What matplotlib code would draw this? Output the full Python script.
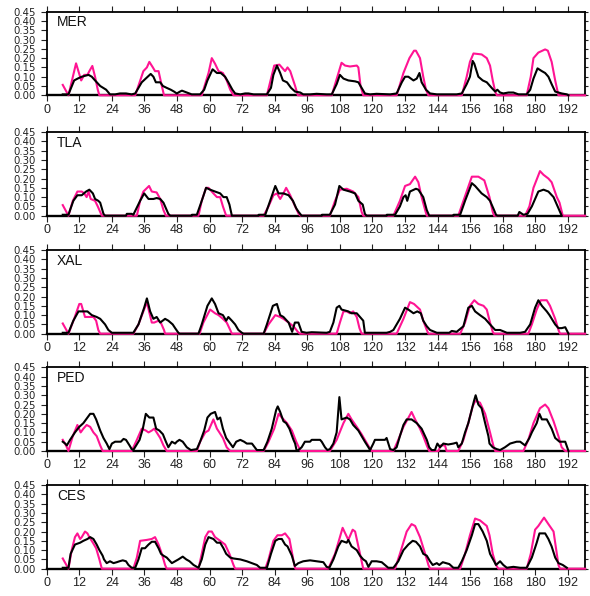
import matplotlib
matplotlib.use('Agg')
import matplotlib.pyplot as plt

# ---------------- data ----------------
stations = ['MER', 'TLA', 'XAL', 'PED', 'CES']

xticks = list(range(0, 193, 12))
yticks = [0.00, 0.05, 0.10, 0.15, 0.20, 0.25, 0.30, 0.35, 0.40, 0.45]
ytick_labels = ['0.00', '0.05', '0.10', '0.15', '0.20', '0.25', '0.30', '0.35', '0.40', '0.45']
x_range = (0, 198.3)

# black series (x, value)
mer_black = [(5.9,0.005),(8.0,0.005),(10.1,0.08),(11.4,0.09),(12.9,0.10),(15.4,0.11),(16.6,0.10),(17.8,0.08),
    (19.7,0.05),(21.9,0.03),(23.3,0.005),(25.2,0.005),(27.0,0.01),(29.2,0.01),(31.3,0.005),(32.6,0.01),
    (35.0,0.07),(37.2,0.10),(38.3,0.115),(39.3,0.10),(40.2,0.07),(41.8,0.07),(42.8,0.05),(44.2,0.04),
    (45.7,0.03),(46.9,0.02),(47.9,0.01),(49.1,0.02),(49.8,0.025),(51.6,0.015),(53.4,0.005),(56.5,0.005),
    (58.0,0.03),(59.2,0.08),(61.1,0.14),(62.7,0.12),(64.1,0.12),(65.7,0.10),(66.9,0.07),(68.4,0.03),
    (69.4,0.01),(71.3,0.005),(73.1,0.01),(74.3,0.01),(76.2,0.005),(81.1,0.005),(82.6,0.04),(83.5,0.11),
    (84.8,0.16),(86.0,0.12),(87.0,0.08),(88.5,0.07),(90.0,0.04),(91.5,0.02),(93.4,0.015),(94.5,0.005),
    (97.0,0.005),(99.4,0.008),(103.1,0.005),(105.0,0.005),(106.8,0.06),(108.0,0.11),(109.3,0.09),
    (111.1,0.08),(113.6,0.075),(114.8,0.07),(116.0,0.04),(117.2,0.01),(119.1,0.005),(121.5,0.008),
    (126.5,0.005),(128.9,0.01),(130.8,0.07),(132.0,0.10),(133.2,0.10),(135.1,0.08),(136.3,0.09),
    (137.3,0.12),(138.1,0.07),(139.7,0.03),(141.2,0.01),(143.7,0.005),(151.0,0.005),(152.9,0.01),
    (154.7,0.06),(155.9,0.10),(156.9,0.185),(157.5,0.17),(159.0,0.10),(160.6,0.08),(162.1,0.07),
    (163.9,0.04),(165.2,0.02),(166.0,0.03),(167.0,0.015),(168.2,0.01),(170.1,0.015),(171.9,0.015),
    (173.8,0.005),(176.8,0.005),(178.1,0.03),(179.3,0.09),(180.8,0.145),(182.4,0.13),(183.6,0.12),
    (184.8,0.10),(186.0,0.06),(187.3,0.02),(189.7,0.01),(191.6,0.005),(192.2,0.0)]

tla_black = [(5.9,0.005),(8.0,0.005),(9.8,0.08),(11.3,0.11),(12.9,0.11),(14.5,0.13),(15.7,0.14),(17.0,0.12),
    (17.8,0.09),(19.0,0.08),(19.7,0.07),(20.9,0.01),(21.5,0.0),(29.2,0.0),(29.5,0.01),(31.3,0.01),
    (31.9,0.005),(34.4,0.08),(35.9,0.12),(37.5,0.09),(39.3,0.09),(40.5,0.095),(41.8,0.09),(43.0,0.07),
    (43.9,0.04),(44.8,0.01),(45.5,0.0),(53.4,0.0),(53.5,0.005),(55.3,0.005),(57.1,0.08),(58.7,0.15),
    (60.2,0.14),(62.0,0.13),(63.9,0.12),(65.1,0.10),(66.3,0.10),(67.3,0.06),(68.2,0.0),(78.0,0.0),
    (78.1,0.005),(80.5,0.005),(82.3,0.08),(84.2,0.16),(85.4,0.12),(87.2,0.12),(89.1,0.11),(90.7,0.08),
    (91.9,0.04),(92.8,0.02),(93.9,0.0),(101.3,0.0),(101.4,0.005),(104.3,0.005),(106.2,0.06),
    (107.8,0.16),(109.3,0.14),(111.7,0.13),(113.6,0.12),(114.8,0.08),(116.4,0.06),(117.2,0.01),
    (117.8,0.0),(125.2,0.0),(125.3,0.005),(128.3,0.005),(130.1,0.05),(131.4,0.10),(132.2,0.11),
    (132.8,0.08),(133.8,0.13),(136.0,0.145),(136.9,0.14),(138.7,0.10),(140.0,0.03),(140.9,0.0),
    (149.8,0.0),(149.9,0.005),(152.3,0.005),(154.1,0.08),(156.6,0.175),(157.8,0.16),(160.2,0.12),
    (162.1,0.10),(163.3,0.08),(164.5,0.04),(165.5,0.005),(166.0,0.0),(173.5,0.0),(174.1,0.02),
    (175.6,0.005),(177.1,0.01),(178.7,0.05),(181.1,0.13),(183.0,0.14),(184.8,0.13),(186.7,0.10),
    (187.9,0.06),(189.1,0.02),(189.7,0.0)]

xal_black = [(5.9,0.005),(8.0,0.005),(9.8,0.07),(11.7,0.12),(13.5,0.12),(15.0,0.12),(16.6,0.10),(18.4,0.09),
    (19.7,0.08),(21.5,0.05),(22.7,0.02),(24.0,0.005),(31.9,0.005),(33.8,0.05),(35.9,0.14),(36.9,0.19),
    (38.1,0.12),(39.3,0.08),(40.5,0.09),(41.8,0.06),(43.6,0.08),(44.8,0.07),(46.4,0.05),(47.3,0.03),
    (48.5,0.005),(49.0,0.0),(55.9,0.0),(57.1,0.05),(59.2,0.15),(60.8,0.19),(62.0,0.16),(63.3,0.11),
    (64.9,0.10),(66.1,0.07),(66.9,0.09),(68.2,0.07),(69.4,0.05),(70.6,0.02),(71.9,0.005),(72.5,0.0),
    (79.9,0.0),(81.1,0.05),(83.3,0.15),(84.8,0.16),(86.0,0.10),(87.2,0.09),(89.1,0.06),(90.4,0.01),
    (91.4,0.06),(92.7,0.06),(93.9,0.01),(95.7,0.005),(97.6,0.008),(103.1,0.005),(104.3,0.01),
    (105.6,0.06),(106.8,0.14),(107.8,0.15),(108.6,0.13),(111.1,0.12),(112.3,0.11),(114.2,0.11),
    (116.0,0.08),(116.6,0.07),(117.2,0.005),(125.2,0.005),(126.5,0.01),(127.7,0.02),(130.1,0.08),
    (132.0,0.14),(133.2,0.13),(135.1,0.11),(136.5,0.12),(137.8,0.11),(138.7,0.07),(140.0,0.04),
    (141.2,0.02),(143.7,0.005),(148.3,0.005),(149.2,0.015),(151.0,0.01),(153.5,0.04),(155.3,0.14),
    (156.6,0.15),(157.8,0.12),(159.6,0.10),(161.5,0.08),(163.3,0.05),(165.2,0.02),(167.0,0.02),
    (169.5,0.005),(174.4,0.005),(176.2,0.01),(178.1,0.05),(179.9,0.14),(181.1,0.18),(182.4,0.15),
    (184.2,0.12),(185.2,0.10),(187.3,0.05),(188.5,0.03),(189.7,0.03),(191.0,0.035),(192.2,0.0)]

ped_black = [(5.9,0.05),(6.8,0.04),(7.4,0.03),(8.6,0.06),(10.4,0.10),(12.0,0.13),(13.5,0.15),(15.0,0.18),
    (16.0,0.20),(17.2,0.20),(18.2,0.17),(19.7,0.11),(20.9,0.07),(22.1,0.04),(23.1,0.01),(24.0,0.04),
    (25.2,0.05),(26.4,0.05),(27.3,0.05),(28.3,0.065),(29.2,0.06),(30.5,0.03),(31.3,0.01),(31.9,0.005),
    (34.2,0.06),(35.4,0.12),(36.5,0.20),(37.8,0.18),(39.3,0.18),(40.3,0.12),(41.5,0.11),(42.8,0.09),
    (43.9,0.05),(44.8,0.02),(46.1,0.05),(47.3,0.04),(47.9,0.05),(48.9,0.06),(50.1,0.05),(51.6,0.02),
    (53.1,0.005),(55.3,0.01),(56.5,0.05),(58.0,0.11),(59.2,0.18),(60.4,0.20),(62.0,0.21),(62.9,0.17),
    (63.9,0.18),(64.9,0.12),(66.1,0.07),(67.6,0.04),(68.6,0.02),(69.8,0.05),(71.3,0.06),(72.7,0.05),
    (73.7,0.04),(75.6,0.04),(77.4,0.005),(79.9,0.005),(81.3,0.05),(82.9,0.12),(84.5,0.22),(85.1,0.24),
    (86.0,0.21),(87.2,0.16),(88.2,0.15),(89.4,0.12),(90.9,0.06),(91.5,0.04),(92.1,0.0),(92.7,0.005),
    (93.9,0.02),(95.1,0.05),(97.0,0.05),(97.6,0.06),(99.4,0.06),(100.7,0.06),(101.3,0.05),(102.5,0.02),
    (103.4,0.005),(104.3,0.01),(105.6,0.04),(106.8,0.10),(107.8,0.29),(108.6,0.17),(110.5,0.18),
    (111.7,0.17),(112.9,0.14),(114.8,0.11),(116.0,0.08),(117.2,0.05),(118.5,0.02),(119.1,0.005),
    (120.3,0.04),(120.9,0.06),(122.8,0.06),(124.6,0.06),(125.2,0.07),(126.5,0.01),(127.7,0.005),
    (128.9,0.02),(130.1,0.08),(131.4,0.14),(132.6,0.17),(134.4,0.17),(136.3,0.15),(138.1,0.12),
    (140.0,0.06),(140.9,0.02),(141.8,0.005),(143.0,0.005),(143.9,0.04),(144.9,0.02),(146.1,0.04),
    (147.9,0.035),(149.8,0.04),(151.0,0.045),(151.6,0.02),(152.9,0.04),(154.1,0.10),(155.3,0.15),
    (157.4,0.27),(158.0,0.30),(159.0,0.25),(160.2,0.23),(161.5,0.15),(162.7,0.08),(163.1,0.04),
    (164.3,0.02),(165.8,0.01),(167.0,0.005),(168.8,0.02),(170.7,0.04),(173.1,0.05),(174.4,0.05),
    (176.2,0.03),(177.8,0.07),(178.7,0.10),(180.5,0.15),(181.5,0.20),(182.4,0.17),(184.2,0.17),
    (186.0,0.12),(187.3,0.07),(188.9,0.05),(191.0,0.05),(192.2,0.0)]

ces_black = [(5.9,0.005),(8.0,0.005),(8.8,0.08),(10.4,0.13),(12.3,0.14),(13.5,0.15),(15.0,0.16),(16.0,0.17),
    (17.2,0.16),(18.4,0.13),(19.4,0.10),(20.6,0.07),(21.1,0.05),(22.1,0.03),(23.3,0.04),(24.6,0.03),
    (25.8,0.035),(26.8,0.04),(28.0,0.045),(29.2,0.04),(30.1,0.02),(31.3,0.005),(32.6,0.005),(33.8,0.05),
    (35.0,0.11),(36.2,0.11),(37.5,0.13),(38.7,0.145),(39.9,0.145),(41.2,0.11),(42.1,0.08),(43.0,0.07),
    (44.2,0.06),(45.5,0.04),(46.1,0.03),(47.3,0.04),(48.5,0.05),(50.1,0.065),(51.4,0.05),(52.6,0.04),
    (54.1,0.02),(55.9,0.005),(57.1,0.05),(58.4,0.13),(59.6,0.17),(61.4,0.16),(62.7,0.14),(63.9,0.14),
    (65.1,0.11),(66.1,0.08),(67.6,0.06),(68.8,0.055),(71.3,0.05),(73.7,0.04),(75.6,0.03),(77.4,0.02),
    (78.6,0.005),(81.1,0.005),(82.6,0.08),(84.2,0.15),(85.4,0.16),(86.6,0.16),(87.8,0.13),(88.7,0.12),
    (90.3,0.07),(91.4,0.015),(92.7,0.03),(94.5,0.04),(97.0,0.045),(99.4,0.04),(101.9,0.035),
    (103.1,0.01),(104.1,0.005),(105.6,0.05),(107.4,0.12),(108.6,0.15),(110.5,0.14),(111.1,0.155),
    (112.3,0.12),(114.2,0.10),(115.4,0.07),(116.6,0.05),(117.6,0.04),(118.5,0.01),(119.7,0.04),
    (121.5,0.04),(123.4,0.035),(124.6,0.02),(125.8,0.005),(127.7,0.005),(129.5,0.04),(131.4,0.10),
    (133.2,0.13),(134.8,0.15),(136.0,0.145),(137.5,0.12),(138.7,0.08),(140.0,0.07),(141.2,0.04),
    (142.2,0.02),(143.7,0.03),(144.6,0.02),(145.9,0.035),(147.1,0.03),(148.3,0.025),(149.8,0.005),
    (151.6,0.005),(152.9,0.04),(154.7,0.10),(156.6,0.18),(157.8,0.24),(159.0,0.24),(160.6,0.20),
    (162.1,0.15),(163.3,0.08),(164.8,0.04),(165.5,0.02),(167.0,0.04),(168.2,0.02),(169.5,0.005),
    (171.9,0.01),(174.4,0.005),(176.8,0.005),(178.7,0.06),(180.5,0.14),(181.5,0.19),(183.6,0.19),
    (184.8,0.16),(186.0,0.12),(187.3,0.06),(188.5,0.03),(190.1,0.02),(191.6,0.005)]

# magenta series (x, value)
mer_pink = [(5.9,0.056),(8.0,0.0),(10.8,0.172),(12.7,0.08),(13.8,0.11),(15.0,0.11),(15.7,0.13),(16.8,0.158),
    (17.8,0.10),(18.8,0.03),(19.4,0.0),(32.6,0.0),(35.6,0.13),(36.9,0.15),(37.8,0.18),(39.1,0.15),
    (39.9,0.13),(41.2,0.13),(42.4,0.05),(43.2,0.0),(57.1,0.0),(59.6,0.12),(60.8,0.20),(62.0,0.17),
    (63.3,0.13),(64.9,0.12),(66.3,0.08),(67.6,0.03),(68.8,0.0),(81.1,0.0),(83.8,0.16),(85.7,0.165),
    (87.8,0.13),(88.7,0.15),(89.7,0.13),(91.5,0.05),(92.5,0.0),(105.0,0.0),(108.6,0.175),(109.9,0.16),
    (111.7,0.155),(114.2,0.16),(114.8,0.15),(115.6,0.05),(116.6,0.0),(128.9,0.0),(131.4,0.12),
    (133.6,0.20),(135.3,0.24),(136.0,0.24),(137.5,0.20),(138.7,0.10),(139.7,0.03),(140.6,0.0),
    (152.9,0.0),(154.7,0.10),(155.9,0.18),(157.2,0.225),(160.2,0.22),(162.1,0.20),(163.3,0.16),
    (164.3,0.08),(165.2,0.02),(165.8,0.0),(176.8,0.0),(178.3,0.10),(179.3,0.20),(181.1,0.23),
    (183.6,0.247),(184.6,0.24),(186.0,0.18),(187.3,0.08),(188.5,0.0),(198.3,0.0)]

tla_pink = [(5.9,0.057),(8.0,0.0),(9.6,0.08),(11.3,0.13),(12.9,0.13),(13.8,0.12),(14.7,0.10),(15.4,0.13),
    (16.2,0.09),(17.8,0.08),(18.8,0.05),(20.3,0.0),(33.2,0.0),(34.4,0.08),(35.6,0.13),(37.7,0.16),
    (38.7,0.13),(40.5,0.125),(41.8,0.09),(43.0,0.03),(43.9,0.0),(55.9,0.0),(57.1,0.08),(58.7,0.15),
    (59.6,0.15),(61.4,0.12),(62.7,0.10),(63.9,0.10),(64.9,0.05),(66.1,0.0),(79.9,0.0),(81.7,0.05),
    (83.5,0.11),(84.8,0.12),(86.0,0.09),(87.2,0.12),(88.2,0.15),(89.7,0.11),(91.5,0.05),(92.8,0.01),
    (93.5,0.0),(104.3,0.0),(106.2,0.08),(108.0,0.14),(110.5,0.145),(112.9,0.13),(114.8,0.10),
    (116.0,0.02),(116.6,0.0),(127.7,0.0),(130.1,0.08),(132.0,0.16),(133.8,0.17),(135.7,0.21),
    (136.9,0.18),(138.1,0.10),(139.4,0.03),(140.0,0.0),(151.6,0.0),(153.5,0.08),(156.6,0.21),
    (159.0,0.21),(161.2,0.19),(163.1,0.10),(164.3,0.02),(164.8,0.0),(176.2,0.0),(177.8,0.05),
    (179.3,0.15),(181.7,0.24),(183.0,0.22),(184.8,0.20),(186.0,0.18),(187.9,0.10),(188.9,0.07),
    (190.1,0.0),(198.3,0.0)]

xal_pink = [(5.9,0.055),(8.0,0.0),(10.1,0.08),(12.0,0.16),(12.7,0.16),(13.5,0.12),(14.1,0.09),(15.7,0.09),
    (17.2,0.09),(18.2,0.07),(19.0,0.02),(19.7,0.0),(31.9,0.0),(33.8,0.05),(35.6,0.12),(36.9,0.17),
    (37.7,0.12),(38.7,0.06),(39.6,0.06),(41.2,0.07),(42.0,0.06),(43.2,0.02),(43.6,0.0),(56.3,0.0),
    (57.7,0.06),(60.2,0.13),(62.0,0.11),(63.3,0.10),(64.9,0.08),(66.3,0.06),(67.6,0.02),(68.2,0.0),
    (79.9,0.0),(81.7,0.05),(84.2,0.10),(86.0,0.09),(87.2,0.08),(89.1,0.06),(90.9,0.04),(92.5,0.01),
    (93.3,0.0),(106.8,0.0),(108.0,0.06),(109.3,0.12),(110.5,0.12),(111.7,0.11),(112.9,0.12),
    (114.2,0.09),(115.2,0.03),(116.0,0.0),(128.9,0.0),(131.4,0.08),(133.8,0.17),(135.3,0.16),
    (137.5,0.13),(138.7,0.07),(140.0,0.02),(140.6,0.0),(152.3,0.0),(154.1,0.06),(155.9,0.15),
    (157.5,0.18),(159.0,0.16),(160.9,0.15),(162.1,0.13),(163.3,0.06),(164.3,0.01),(164.8,0.0),
    (177.4,0.0),(178.7,0.05),(180.5,0.13),(182.0,0.18),(184.2,0.18),(185.4,0.15),(187.3,0.08),
    (188.5,0.02),(189.1,0.0),(198.3,0.0)]

ped_pink = [(5.9,0.06),(7.1,0.03),(8.0,0.0),(9.6,0.08),(11.3,0.14),(12.5,0.10),(13.5,0.12),(14.7,0.14),
    (16.0,0.13),(17.2,0.10),(18.4,0.08),(19.7,0.03),(20.6,0.0),(31.3,0.0),(33.2,0.06),(35.0,0.12),
    (36.5,0.11),(37.5,0.10),(38.7,0.11),(39.6,0.12),(40.5,0.10),(41.8,0.07),(43.0,0.03),(44.2,0.0),
    (55.3,0.0),(56.5,0.05),(58.4,0.10),(59.6,0.11),(61.4,0.17),(62.7,0.12),(63.6,0.10),(64.9,0.07),
    (66.3,0.02),(67.6,0.0),(79.9,0.0),(81.7,0.05),(83.8,0.12),(85.4,0.20),(86.6,0.18),(88.5,0.15),
    (90.3,0.11),(91.9,0.05),(93.5,0.0),(104.3,0.0),(106.8,0.06),(109.3,0.15),(111.1,0.20),(112.3,0.17),
    (114.2,0.13),(116.0,0.09),(117.6,0.05),(118.8,0.02),(119.7,0.0),(127.7,0.0),(129.5,0.06),
    (131.4,0.13),(134.4,0.21),(135.7,0.17),(137.5,0.12),(138.7,0.08),(140.0,0.03),(140.9,0.0),
    (144.3,0.0),(145.1,0.03),(146.7,0.03),(147.3,0.0),(151.6,0.0),(153.5,0.06),(155.3,0.15),
    (156.9,0.24),(157.9,0.27),(159.6,0.26),(161.5,0.20),(163.3,0.10),(164.5,0.03),(165.2,0.0),
    (175.6,0.0),(177.4,0.06),(179.3,0.15),(181.7,0.23),(183.6,0.25),(184.8,0.23),(186.7,0.16),
    (188.5,0.08),(189.7,0.02),(191.0,0.0),(198.3,0.0)]

ces_pink = [(5.9,0.055),(8.0,0.0),(9.2,0.10),(10.4,0.17),(11.3,0.19),(12.3,0.16),(12.9,0.17),(14.1,0.20),
    (15.0,0.19),(15.7,0.17),(17.0,0.14),(18.2,0.11),(19.4,0.05),(20.3,0.0),(31.9,0.0),(33.2,0.06),
    (34.4,0.15),(36.9,0.155),(38.7,0.16),(39.9,0.17),(41.2,0.13),(42.4,0.08),(43.6,0.02),(44.2,0.0),
    (55.9,0.0),(57.1,0.08),(58.4,0.17),(59.6,0.20),(60.8,0.20),(62.0,0.17),(63.9,0.15),(65.7,0.13),
    (67.3,0.08),(68.8,0.02),(69.4,0.0),(80.5,0.0),(81.7,0.05),(83.5,0.15),(85.0,0.18),(86.6,0.18),
    (87.8,0.19),(89.4,0.16),(90.3,0.09),(91.2,0.02),(91.6,0.0),(103.7,0.0),(106.2,0.08),(109.0,0.22),
    (111.1,0.155),(112.7,0.21),(113.6,0.20),(114.8,0.12),(116.0,0.04),(116.6,0.0),(128.3,0.0),
    (130.1,0.08),(132.6,0.20),(134.4,0.24),(135.7,0.23),(137.5,0.17),(139.4,0.08),(140.6,0.02),
    (141.2,0.0),(152.3,0.0),(154.1,0.08),(155.9,0.18),(157.8,0.27),(159.6,0.26),(162.1,0.23),
    (163.1,0.18),(164.3,0.08),(165.5,0.02),(166.4,0.0),(176.8,0.0),(178.3,0.08),(179.9,0.21),
    (181.1,0.23),(183.2,0.275),(184.8,0.24),(186.7,0.20),(187.9,0.08),(188.5,0.02),(189.1,0.0),
    (198.3,0.0)]

black_series = [mer_black, tla_black, xal_black, ped_black, ces_black]
pink_series = [mer_pink, tla_pink, xal_pink, ped_pink, ces_pink]

# ---------------- figure ----------------
plt.rcParams['font.family'] = ['Liberation Sans', 'DejaVu Sans']
fig = plt.figure(figsize=(5.90, 5.96), dpi=100)

left, width, height = 0.0792, 0.9124, 0.1403
bottoms = [0.8401, 0.6381, 0.4401, 0.2433, 0.0458]
PINK = '#ff1493'

for name, blk, pnk, b in zip(stations, black_series, pink_series, bottoms):
    ax = fig.add_axes([left, b, width, height])
    bx, by = zip(*blk)
    px, py = zip(*pnk)
    ax.plot(px, py, color=PINK, lw=1.5, zorder=3, clip_on=False, solid_joinstyle='round')
    ax.plot(bx, by, color='black', lw=1.5, zorder=4, clip_on=False, solid_joinstyle='round')
    ax.set_xlim(*x_range)
    ax.set_ylim(0, 0.45)
    ax.set_xticks(xticks)
    ax.set_xticklabels([str(t) for t in xticks])
    ax.set_yticks(yticks)
    ax.set_yticklabels(ytick_labels, family=['DejaVu Sans'])
    ax.tick_params(axis='x', bottom=True, top=True, labelbottom=True, labeltop=False,
                   direction='out', length=4.5, width=0.8, pad=1.5, labelsize=9, colors='#222222')
    ax.tick_params(axis='y', left=True, right=True, labelleft=True, labelright=False,
                   direction='out', length=4.3, width=0.8, pad=3.5, labelsize=7.3, colors='#222222')
    ax.tick_params(axis='y', which='major', right=True)
    for tick in ax.yaxis.get_major_ticks():
        tick.tick2line.set_markersize(2.2)
    for side, sp in ax.spines.items():
        sp.set_linewidth(1.3)
        sp.set_color('black')
    ax.spines['bottom'].set_linewidth(1.7)
    ax.text(0.019, 0.875, name, transform=ax.transAxes, ha='left', va='center',
            fontsize=10, color='#111111')

fig.savefig('out.png', dpi=100)
